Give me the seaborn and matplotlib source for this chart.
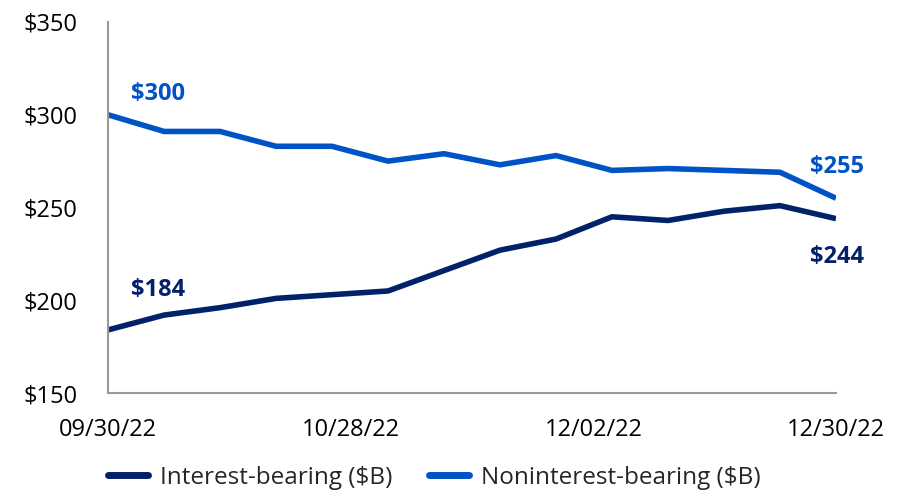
import numpy as np
import pandas as pd
import matplotlib
matplotlib.use("Agg")
import matplotlib.pyplot as plt
import seaborn as sns

# Weekly deposit balances ($B), 09/30/22 - 12/30/22
weeks = list(range(14))
interest_bearing = [184, 192, 196, 201, 203, 205, 216, 227, 233, 245, 243, 248, 251, 244]
noninterest_bearing = [300, 291, 291, 283, 283, 275, 279, 273, 278, 270, 271, 270, 269, 255]
tick_labels = ["09/30/22", "10/28/22", "12/02/22", "12/30/22"]

NAVY = "#012169"
BLUE = "#0053C4"

sns.set_style("white")
plt.rcParams["font.family"] = ["Open Sans", "DejaVu Sans"]

df = pd.DataFrame({
    "week": weeks * 2,
    "value": interest_bearing + noninterest_bearing,
    "series": ["Interest-bearing ($B)"] * 14 + ["Noninterest-bearing ($B)"] * 14,
})

fig = plt.figure(figsize=(9.11, 4.94), dpi=100)
ax = fig.add_axes([108 / 911, 1 - 393 / 494, (836 - 108) / 911, (393 - 22) / 494])

sns.lineplot(data=df, x="week", y="value", hue="series",
             palette=[NAVY, BLUE], linewidth=4, ax=ax, legend=False,
             solid_capstyle="butt", solid_joinstyle="round")

ax.set_xlim(0, 13)
ax.set_ylim(150, 350)
ax.set_yticks([150, 200, 250, 300, 350])
ax.set_yticklabels([f"${v}" for v in [150, 200, 250, 300, 350]])
ax.set_xticks(np.linspace(0, 13, 4))
ax.set_xticklabels(tick_labels)
ax.tick_params(axis="both", length=0, labelsize=17, colors="black")
ax.tick_params(axis="y", pad=22)
ax.tick_params(axis="x", pad=18)
ax.set_xlabel("")
ax.set_ylabel("")

for side in ["top", "right"]:
    ax.spines[side].set_visible(False)
for side in ["left", "bottom"]:
    ax.spines[side].set_color("#999999")
    ax.spines[side].set_linewidth(1.5)

# data labels at the start and end points
lab_kw = dict(fontsize=17, fontweight="bold", ha="center")
ax.annotate(f"${noninterest_bearing[0]}", (weeks[0], noninterest_bearing[0]),
            xytext=(36, 6), textcoords="offset points", color=BLUE, va="bottom", **lab_kw)
ax.annotate(f"${interest_bearing[0]}", (weeks[0], interest_bearing[0]),
            xytext=(36, 20), textcoords="offset points", color=NAVY, va="bottom", **lab_kw)
ax.annotate(f"${noninterest_bearing[-1]}", (weeks[-1], noninterest_bearing[-1]),
            xytext=(1, 14), textcoords="offset points", color=BLUE, va="bottom", **lab_kw)
ax.annotate(f"${interest_bearing[-1]}", (weeks[-1], interest_bearing[-1]),
            xytext=(1, -19), textcoords="offset points", color=NAVY, va="top", **lab_kw)

handles = [plt.Line2D([], [], color=NAVY, linewidth=5),
           plt.Line2D([], [], color=BLUE, linewidth=5)]
fig.legend(handles, ["Interest-bearing ($B)", "Noninterest-bearing ($B)"],
           loc="center", bbox_to_anchor=(434 / 911, 1 - 478 / 494), ncol=2,
           frameon=False, fontsize=17.5, handlelength=1.65, handletextpad=0.5,
           columnspacing=1.5)

fig.savefig("out.png", dpi=100)
